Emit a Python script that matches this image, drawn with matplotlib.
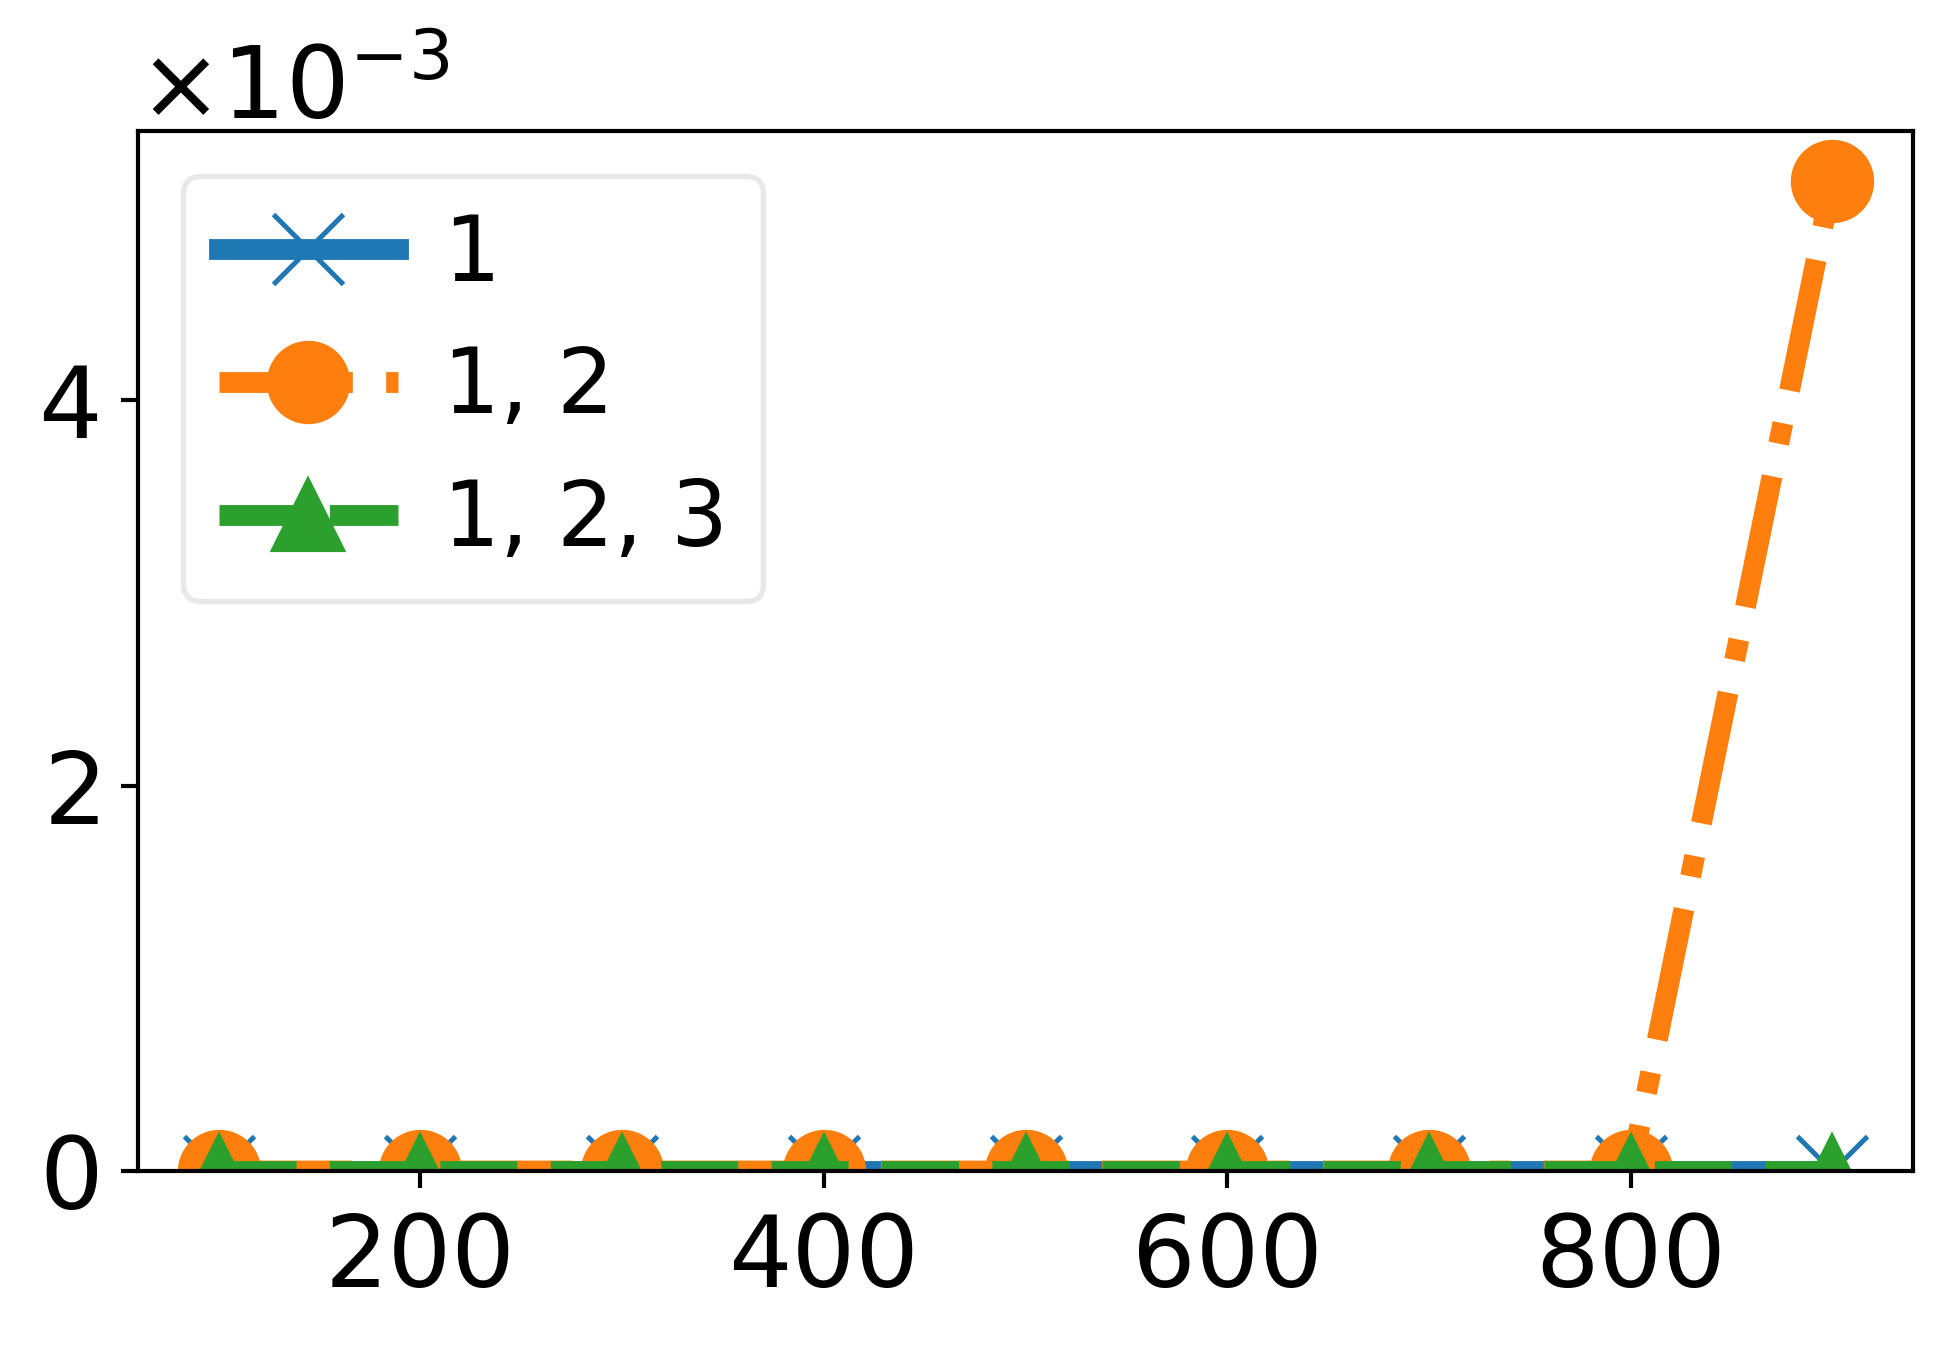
import matplotlib
matplotlib.use("Agg")
import matplotlib.pyplot as plt

x = [100, 200, 300, 400, 500, 600, 700, 800, 900]
y_1 = [0, 0, 0, 0, 0, 0, 0, 0, 0]
y_12 = [0, 0, 0, 0, 0, 0, 0, 0, 5.14e-3]
y_123 = [0, 0, 0, 0, 0, 0, 0, 0, 0]
labels = ['1', '1, 2', '1, 2, 3']

plt.rcParams['font.size'] = 24
plt.rcParams['axes.linewidth'] = 1.0
plt.rcParams['xtick.major.width'] = 1.0
plt.rcParams['ytick.major.width'] = 1.0
plt.rcParams['xtick.major.size'] = 4
plt.rcParams['ytick.major.size'] = 4
plt.rcParams['xtick.major.pad'] = 5.5
plt.rcParams['ytick.major.pad'] = 5.5

fig, ax = plt.subplots(figsize=(1953 / 300, 1348 / 300), dpi=300)
fig.subplots_adjust(left=0.0707, right=0.9795, top=0.9028, bottom=0.1313)

ax.plot(x, y_1, '-', marker='x', color='#1f77b4', lw=5, ms=17, mew=1.2, label=labels[0])
ax.plot(x, y_12, '-.', marker='o', color='#ff7f0e', lw=5, ms=19, label=labels[1])
ax.plot(x, y_123, '--', marker='^', color='#2ca02c', lw=5, ms=17, label=labels[2])

ax.set_ylim(bottom=0)
ax.ticklabel_format(axis='y', style='sci', scilimits=(0, 0), useMathText=True)
ax.yaxis.get_offset_text().set_fontsize(24)

leg = ax.legend(loc='upper left', fontsize=21.5, handletextpad=0.5)
leg.get_frame().set_edgecolor('#e3e3e3')
leg.get_frame().set_linewidth(1.3)

fig.savefig('out.png', dpi=300)
